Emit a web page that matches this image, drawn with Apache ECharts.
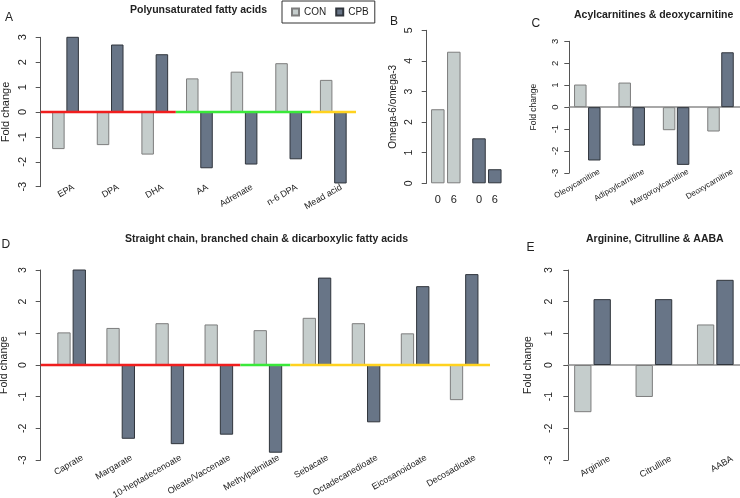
<!DOCTYPE html>
<html>
<head>
<meta charset="utf-8">
<script src="https://cdn.jsdelivr.net/npm/echarts@6/dist/echarts.min.js"></script>
<style>
html, body { margin: 0; padding: 0; background: #fff; }
#chart { width: 740px; height: 498px; }
</style>
</head>
<body>
<div id="chart"></div>
<script>
// A - polyunsaturated fatty acids (fold change)
var pufaNames = ['EPA', 'DPA', 'DHA', 'AA', 'Adrenate', 'n-6 DPA', 'Mead acid'];
var pufaCON = [-1.49, -1.33, -1.71, 1.35, 1.62, 1.96, 1.29];
var pufaCPB = [3.07, 2.71, 2.32, -2.26, -2.11, -1.90, -2.87];
var pufaClassSizes = [3, 3, 1]; // omega-3, omega-6, omega-9

// B - omega-6/omega-3 ratio at week 0 and 6
var ratioWeeks = ['0', '6'];
var ratioCON = [2.42, 4.30];
var ratioCPB = [1.47, 0.46];

// C - acylcarnitines
var carnNames = ['Oleoycarnitine', 'Adipoylcarnitine', 'Margoroylcarnitine', 'Deoxycarnitine'];
var carnCON = [1.03, 1.12, -1.05, -1.11];
var carnCPB = [-2.43, -1.75, -2.63, 2.50];

// D - straight / branched / dicarboxylic
var chainNames = ['Caprate', 'Margarate', '10-heptadecenoate', 'Oleate/Vaccenate', 'Methylpalmitate',
	'Sebacate', 'Octadecanedioate', 'Eicosanoidoate', 'Decosadioate'];
var chainCON = [1.03, 1.17, 1.32, 1.28, 1.10, 1.49, 1.32, 1.00, -1.11];
var chainCPB = [3.02, -2.33, -2.50, -2.20, -2.77, 2.76, -1.81, 2.49, 2.87];
var chainClassSizes = [4, 1, 4]; // straight, branched, dicarboxylic

// E - arginine, citrulline, AABA
var aaNames = ['Arginine', 'Citrulline', 'AABA'];
var aaCON = [-1.49, -1.01, 1.28];
var aaCPB = [2.08, 2.08, 2.69];

var FONT = '"Liberation Sans", Arial, Helvetica, sans-serif';
var TEXT = '#222';
var AXIS_COLOR = '#555';
var conStyle = {color: '#c5cdcc', borderColor: '#7d7d7d', borderWidth: 1};
var cpbStyle = {color: '#687587', borderColor: '#30353c', borderWidth: 1};
var classColors = ['#f01e1e', '#3ae83a', '#ffd21f'];

var grids = [], xAxes = [], yAxes = [], series = [];

function addGrid(left, top, width, height) {
	grids.push({left: left, top: top, width: width, height: height, outerBoundsMode: 'none'});
	return grids.length - 1;
}

function rAxis(gi, p, min, max, name) {
	return {
		gridIndex: gi, type: 'value', min: min, max: max, interval: 1,
		offset: p.left - p.axisX,
		name: name, nameLocation: 'middle', nameRotate: 90, nameGap: p.nameGap,
		nameTextStyle: {fontFamily: FONT, fontSize: p.nameSize, color: TEXT},
		axisLine: {show: true, lineStyle: {color: AXIS_COLOR, width: 1}},
		axisTick: {show: true, length: 5, lineStyle: {color: AXIS_COLOR}},
		axisLabel: {rotate: 90, margin: p.tickMargin, fontFamily: FONT, fontSize: p.tickSize, color: TEXT},
		splitLine: {show: false}
	};
}

function foldPanel(p) {
	var g = addGrid(p.left, p.top, p.width, p.height);
	xAxes.push({gridIndex: g, type: 'category', data: p.names, show: false});
	yAxes.push(rAxis(g, p, -3, 3, 'Fold change'));
	var xi = xAxes.length - 1, yi = yAxes.length - 1;
	series.push({name: 'CON', type: 'bar', xAxisIndex: xi, yAxisIndex: yi, data: p.con,
		barWidth: p.barWidth, barGap: p.barGap, itemStyle: conStyle});
	series.push({name: 'CPB', type: 'bar', xAxisIndex: xi, yAxisIndex: yi, data: p.cpb,
		barWidth: p.barWidth, barGap: p.barGap, itemStyle: cpbStyle});
	// names sit a bit right of the bar pairs, like text(srt=30) in R
	var lg = addGrid(p.left + p.labelShift, p.top, p.width, p.height);
	xAxes.push({gridIndex: lg, type: 'category', data: p.names,
		axisLine: {show: false}, axisTick: {show: false}, splitLine: {show: false},
		axisLabel: {interval: 0, rotate: 30, margin: p.labelMargin, fontFamily: FONT, fontSize: p.labelSize, color: TEXT}});
	yAxes.push({gridIndex: lg, type: 'value', min: -3, max: 3, show: false});
}

// coloured zero line, one segment per class of compounds
function classLine(left, right, top, height, sizes) {
	var g = addGrid(left, top, right - left, height);
	var total = 0;
	for (var i = 0; i < sizes.length; i++) total += sizes[i];
	xAxes.push({gridIndex: g, type: 'value', min: 0, max: total, show: false});
	yAxes.push({gridIndex: g, type: 'value', min: -3, max: 3, show: false});
	var start = 0;
	for (var j = 0; j < sizes.length; j++) {
		series.push({type: 'line', xAxisIndex: xAxes.length - 1, yAxisIndex: yAxes.length - 1,
			data: [[start, 0], [start + sizes[j], 0]], symbol: 'none', silent: true, z: 5,
			lineStyle: {color: classColors[j], width: 2.5}});
		start += sizes[j];
	}
}

function plainZeroLine(left, right, top, height) {
	var g = addGrid(left, top, right - left, height);
	xAxes.push({gridIndex: g, type: 'value', min: 0, max: 1,
		axisLine: {show: true, onZero: true, lineStyle: {color: '#8c8c8c', width: 1.5}},
		axisTick: {show: false}, axisLabel: {show: false}, splitLine: {show: false}});
	yAxes.push({gridIndex: g, type: 'value', min: -3, max: 3, show: false});
}

foldPanel({names: pufaNames, con: pufaCON, cpb: pufaCPB,
	left: 43.2, width: 312.4, top: 37.3, height: 149.4, axisX: 40.7,
	barWidth: 12.5, barGap: '14%', tickSize: 11, tickMargin: 12, nameSize: 11, nameGap: 29,
	labelShift: 8, labelMargin: 0, labelSize: 9});
classLine(40.7, 356, 37.3, 149.4, pufaClassSizes);

foldPanel({names: carnNames, con: carnCON, cpb: carnCPB,
	left: 565.1, width: 177.6, top: 41.3, height: 131.7, axisX: 569.3,
	barWidth: 12.5, barGap: '12%', tickSize: 9.5, tickMargin: 9, nameSize: 8.5, nameGap: 31,
	labelShift: 12, labelMargin: -2, labelSize: 8});
plainZeroLine(569.3, 740, 41.3, 131.7);

foldPanel({names: chainNames, con: chainCON, cpb: chainCPB,
	left: 47.1, width: 441.6, top: 270, height: 190, axisX: 40.7,
	barWidth: 13.3, barGap: '15%', tickSize: 10.5, tickMargin: 12, nameSize: 10.5, nameGap: 28,
	labelShift: 11, labelMargin: -3, labelSize: 9});
classLine(40.7, 490, 270, 190, chainClassSizes);

foldPanel({names: aaNames, con: aaCON, cpb: aaCPB,
	left: 561.8, width: 184.2, top: 270, height: 190, axisX: 568.3,
	barWidth: 17.3, barGap: '12%', tickSize: 10.5, tickMargin: 14, nameSize: 10.5, nameGap: 35,
	labelShift: 17, labelMargin: -2, labelSize: 9});
plainZeroLine(568.3, 740, 270, 190);

// B: two small grids so the CON pair and CPB pair keep their own spacing
var bParams = {left: 429.8, axisX: 426.7, nameGap: 28, nameSize: 10, tickMargin: 12, tickSize: 10.5};
var gB1 = addGrid(429.8, 30.3, 32, 153);
var gB2 = addGrid(471.1, 30.3, 31.6, 153);
var weekAxis = {type: 'category', data: ratioWeeks, axisLine: {show: false}, axisTick: {show: false},
	axisLabel: {margin: 11, fontFamily: FONT, fontSize: 11, color: TEXT}};
xAxes.push(Object.assign({gridIndex: gB1}, weekAxis));
yAxes.push(rAxis(gB1, bParams, 0, 5, 'Omega-6/omega-3'));
series.push({name: 'CON', type: 'bar', xAxisIndex: xAxes.length - 1, yAxisIndex: yAxes.length - 1,
	data: ratioCON, barWidth: 13.5, itemStyle: conStyle});
xAxes.push(Object.assign({gridIndex: gB2}, weekAxis));
yAxes.push({gridIndex: gB2, type: 'value', min: 0, max: 5, show: false});
series.push({name: 'CPB', type: 'bar', xAxisIndex: xAxes.length - 1, yAxisIndex: yAxes.length - 1,
	data: ratioCPB, barWidth: 13.5, itemStyle: cpbStyle});

var titleStyle = {fontFamily: FONT, fontSize: 10.5, fontWeight: 'bold', color: TEXT};
var letterStyle = {fontFamily: FONT, fontSize: 12, fontWeight: 'normal', color: TEXT};

var chart = echarts.init(document.getElementById('chart'));
chart.setOption({
	animation: false,
	backgroundColor: '#fff',
	title: [
		{text: 'Polyunsaturated fatty acids', left: 130, top: 5, padding: 0, textStyle: titleStyle},
		{text: 'Acylcarnitines & deoxycarnitine', left: 574, top: 9.5, padding: 0, textStyle: titleStyle},
		{text: 'Straight chain, branched chain & dicarboxylic fatty acids', left: 125, top: 233.5, padding: 0, textStyle: titleStyle},
		{text: 'Arginine, Citrulline & AABA', left: 586, top: 233.5, padding: 0, textStyle: titleStyle},
		{text: 'A', left: 5, top: 11.5, padding: 0, textStyle: letterStyle},
		{text: 'B', left: 390, top: 15.5, padding: 0, textStyle: letterStyle},
		{text: 'C', left: 531.5, top: 17.5, padding: 0, textStyle: letterStyle},
		{text: 'D', left: 1.5, top: 238.5, padding: 0, textStyle: letterStyle},
		{text: 'E', left: 526.5, top: 241.5, padding: 0, textStyle: letterStyle}
	],
	legend: {
		data: ['CON', 'CPB'],
		left: 282, top: 1,
		padding: [6, 6, 6, 9],
		itemGap: 9, itemWidth: 7, itemHeight: 7,
		icon: 'rect',
		borderColor: '#333', borderWidth: 1,
		selectedMode: false,
		textStyle: {fontFamily: FONT, fontSize: 10, color: TEXT}
	},
	grid: grids,
	xAxis: xAxes,
	yAxis: yAxes,
	series: series
});
</script>
</body>
</html>
